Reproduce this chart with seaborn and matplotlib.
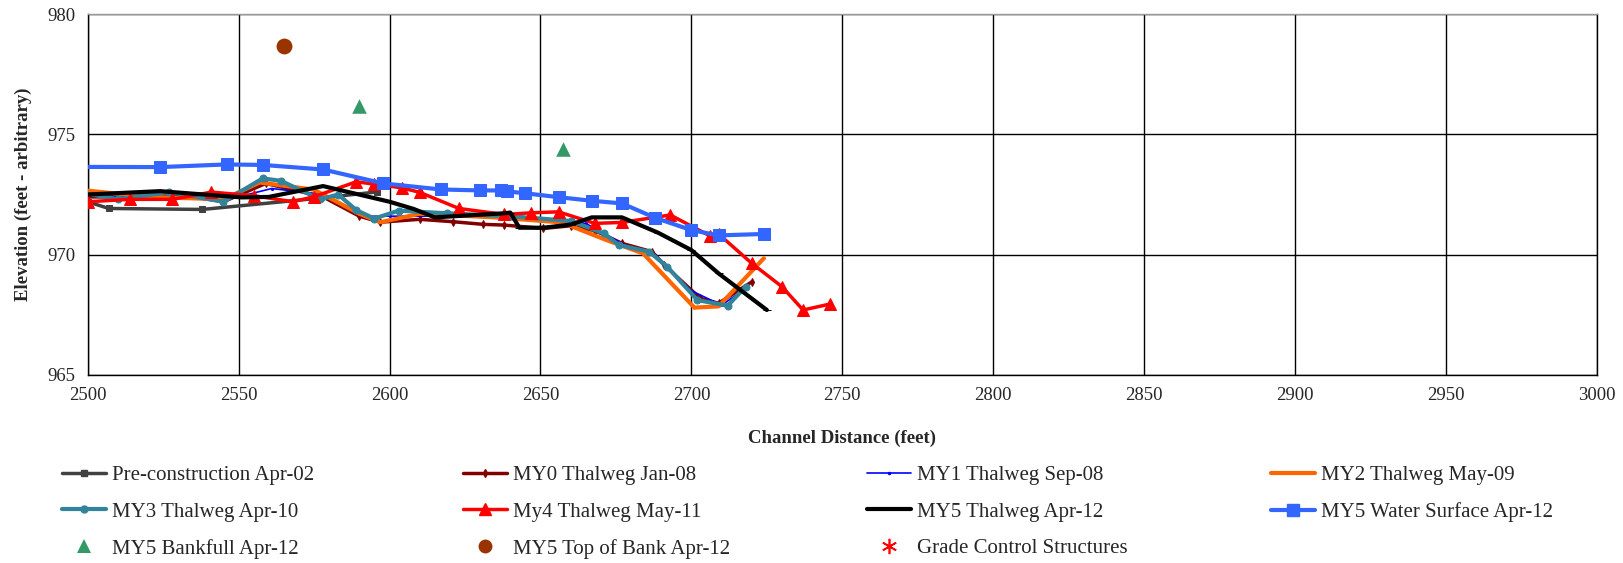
import matplotlib
matplotlib.use("Agg")
import matplotlib.pyplot as plt
import seaborn as sns
from matplotlib.lines import Line2D

# station (ft) and elevation (ft) per survey
pre_x = [2500, 2507, 2538, 2577, 2596]
pre_y = [972.2, 971.92, 971.88, 972.35, 972.61]

my0_x = [2497, 2510, 2530, 2545, 2559, 2578, 2590, 2597, 2610, 2621, 2631, 2638, 2651, 2660, 2668, 2677, 2687, 2691, 2703, 2709, 2720]
my0_y = [972.4, 972.4, 972.5, 972.2, 972.96, 972.4, 971.6, 971.35, 971.47, 971.37, 971.26, 971.23, 971.09, 971.2, 971.0, 970.47, 970.12, 969.57, 968.18, 967.98, 968.87]

my1_x = [2497, 2510, 2530, 2545, 2561, 2578, 2592, 2600, 2625, 2648, 2665, 2678, 2688, 2700, 2710, 2718]
my1_y = [972.5, 972.4, 972.6, 972.25, 972.75, 972.5, 971.6, 971.6, 971.6, 971.5, 971.3, 970.4, 970.0, 968.5, 967.9, 968.6]

my2_x = [2497, 2520, 2545, 2557, 2575, 2590, 2597, 2610, 2635, 2657, 2672, 2684, 2701, 2709, 2724]
my2_y = [972.7, 972.4, 972.3, 973.0, 972.7, 971.7, 971.35, 971.7, 971.55, 971.34, 970.6, 970.05, 967.8, 967.85, 969.85]

my3_x = [2497, 2510, 2527, 2545, 2558, 2564, 2577, 2583, 2589, 2595, 2603, 2619, 2640, 2660, 2671, 2676, 2686, 2692, 2702, 2712, 2718]
my3_y = [972.6, 972.3, 972.6, 972.2, 973.17, 973.07, 972.3, 972.5, 971.85, 971.5, 971.83, 971.72, 971.6, 971.4, 970.88, 970.4, 970.12, 969.5, 968.11, 967.88, 968.67]

my4_x = [2500, 2514, 2528, 2541, 2555, 2568, 2575, 2589, 2595, 2604, 2610, 2623, 2638, 2647, 2656, 2668, 2677, 2693, 2706, 2709, 2720, 2730, 2737, 2746]
my4_y = [972.2, 972.3, 972.3, 972.6, 972.45, 972.2, 972.41, 973.03, 972.93, 972.78, 972.59, 971.92, 971.67, 971.74, 971.78, 971.3, 971.34, 971.65, 970.79, 970.86, 969.64, 968.67, 967.7, 967.95]

my5_x = [2500, 2524, 2551, 2560, 2578, 2600, 2608, 2615, 2638, 2640, 2643, 2651, 2660, 2667, 2677, 2689, 2700, 2709, 2725]
my5_y = [972.5, 972.64, 972.38, 972.4, 972.85, 972.2, 971.9, 971.55, 971.72, 971.75, 971.12, 971.12, 971.25, 971.55, 971.55, 970.91, 970.19, 969.22, 967.7]

ws_x = [2490, 2524, 2546, 2558, 2578, 2598, 2617, 2630, 2637, 2639, 2645, 2656, 2667, 2677, 2688, 2700, 2709, 2724]
ws_y = [973.65, 973.64, 973.75, 973.73, 973.54, 972.96, 972.71, 972.67, 972.67, 972.63, 972.55, 972.39, 972.24, 972.13, 971.53, 971.02, 970.8, 970.86]

bkf_x = [2590, 2657.5]
bkf_y = [976.18, 974.39]

tob_x = [2565]
tob_y = [978.68]

labels = ["Pre-construction Apr-02", "MY0 Thalweg Jan-08", "MY1 Thalweg Sep-08", "MY2 Thalweg May-09",
          "MY3 Thalweg Apr-10", "My4 Thalweg May-11", "MY5 Thalweg Apr-12", "MY5 Water Surface Apr-12",
          "MY5 Bankfull Apr-12", "MY5 Top of Bank Apr-12", "Grade Control Structures"]

sns.set_style("white")
plt.rcParams['font.family'] = ['Liberation Serif', 'DejaVu Serif']

fig = plt.figure(figsize=(16.23, 5.63), dpi=100)
ax = fig.add_axes([0.054, 0.334, 0.93, 0.641])

line_specs = [
    (pre_x, pre_y, "#404040", 2.5, "s", 5),
    (my0_x, my0_y, "#800000", 2.5, "d", 4),
    (my1_x, my1_y, "#0000FF", 1.2, ".", 3),
    (my2_x, my2_y, "#FF6600", 3.0, ".", 2),
    (my3_x, my3_y, "#31849B", 3.0, "o", 5),
    (my4_x, my4_y, "#FF0000", 2.5, "^", 8),
    (my5_x, my5_y, "#000000", 3.0, "_", 6),
    (ws_x, ws_y, "#3366FF", 3.0, "s", 8),
]

handles = []
for (xs, ys, col, lw, mk, ms), lab in zip(line_specs, labels[:8]):
    sns.lineplot(x=xs, y=ys, sort=False, estimator=None, ax=ax, color=col, linewidth=lw,
                 marker=mk, markersize=ms, markeredgecolor=col, zorder=3)
    handles.append(Line2D([], [], color=col, lw=lw, marker=mk, markersize=ms, markeredgecolor=col))

sns.scatterplot(x=bkf_x, y=bkf_y, ax=ax, color="#339966", marker="^", s=110, linewidth=0, zorder=4)
sns.scatterplot(x=tob_x, y=tob_y, ax=ax, color="#993300", marker="o", s=130, linewidth=0, zorder=4)
handles.append(Line2D([], [], ls="none", color="#339966", marker="^", markersize=10, markeredgewidth=0))
handles.append(Line2D([], [], ls="none", color="#993300", marker="o", markersize=10, markeredgewidth=0))
handles.append(Line2D([], [], ls="none", color="#FF0000", marker=(6, 2, 0), markersize=11, markeredgewidth=1.2))

ax.set_xlim(2500, 3000)
ax.set_ylim(965, 980)
ax.set_xticks(range(2500, 3001, 50))
ax.set_yticks([965, 970, 975, 980])
ax.grid(True, color="black", linewidth=1.0)
ax.set_axisbelow(True)
for s in ax.spines.values():
    s.set_color("black")
    s.set_linewidth(1.0)
ax.spines["top"].set_color("#999999")
ax.tick_params(axis="both", direction="out", length=5, color="black", labelsize=13.5, pad=4)
ax.set_xlabel("Channel Distance (feet)", fontsize=13.5, fontweight="bold", labelpad=18)
ax.set_ylabel("Elevation (feet - arbitrary)", fontsize=13.5, fontweight="bold", labelpad=11)

# legend laid out row-wise like the original, one legend per column
cols = [[0, 4, 8], [1, 5, 9], [2, 6, 10], [3, 7]]
col_x = [0.033, 0.280, 0.529, 0.778]
for cx, idx in zip(col_x, cols):
    fig.legend([handles[i] for i in idx], [labels[i] for i in idx], loc="upper left",
               bbox_to_anchor=(cx, 0.188), frameon=False, fontsize=15,
               handlelength=2.1, handletextpad=0.3, labelspacing=0.82, borderaxespad=0)

fig.savefig("out.png", dpi=100)
